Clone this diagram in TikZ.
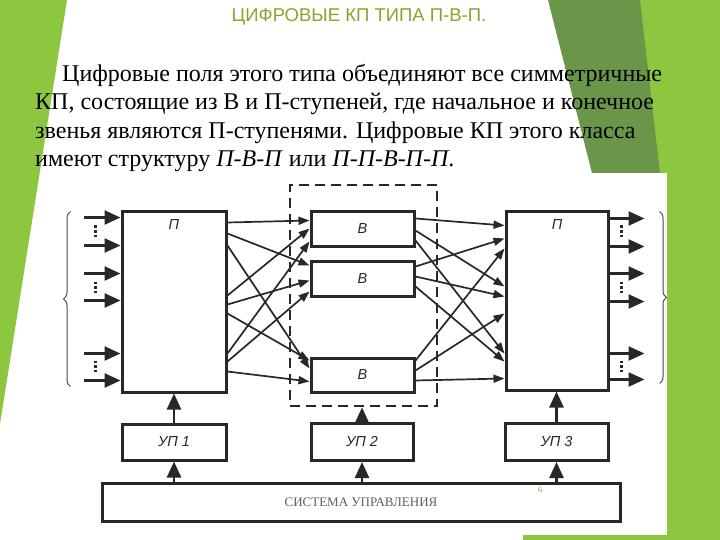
\documentclass[tikz,border=0pt]{standalone}
\usepackage{fontspec}
\setmainfont{Liberation Serif}
\setsansfont{Liberation Sans}
\newfontfamily\titlefont{Liberation Sans}
\usetikzlibrary{arrows.meta,calc,decorations.pathreplacing}
\definecolor{lime}{RGB}{141,198,63}
\definecolor{moss}{RGB}{106,150,74}
\definecolor{titlegreen}{RGB}{145,160,45}
\definecolor{ink}{RGB}{40,40,40}
\begin{document}
\begin{tikzpicture}[x=1pt,y=-1pt,
    blk/.style={draw=ink, line width=3pt, fill=white, inner sep=0pt},
    lbl/.style={font=\sffamily\itshape\fontsize{14.5}{14.5}\selectfont, text=ink},
    wire/.style={draw=ink, line width=1.7pt, -{Triangle[length=11pt,width=8pt]}},
    port/.style={draw=ink, line width=2.5pt, -{Triangle[length=16pt,width=14pt]}},
    vdash/.style={draw=ink, line width=3pt, dash pattern=on 2.5pt off 2pt},
    brace/.style={decorate, decoration={brace, amplitude=7pt}, draw=ink!85, line width=1pt}]
  \useasboundingbox (0,0) rectangle (720,540);
  % slide background
  \fill[white] (0,0) rectangle (720,540);
  \fill[lime] (0,0) -- (67,0) -- (0,424) -- cycle;
  \fill[lime] (620,0) -- (720,0) -- (720,540) -- (640,540) -- cycle;
  \fill[lime] (523,535) rectangle (720,540);
  \fill[moss] (548,0) -- (640,0) -- (660,173) -- (592,173) -- cycle;
  \fill[white] (65,173) rectangle (667,535);
  \fill[white] (65,535) rectangle (523,540);
  % title and text
  \node[font=\titlefont\fontsize{18.5}{18.5}\selectfont, text=titlegreen] (title) at (359,17) {ЦИФРОВЫЕ КП ТИПА П-В-П.};
  \node[anchor=north west, align=left, inner sep=0pt, font=\rmfamily\fontsize{24}{28.5}\selectfont] (intro) at (35,64)
    {\hspace*{27pt}Цифровые поля этого типа объединяют все симметричные\\
     КП, состоящие из В и П-ступеней, где начальное и конечное\\
     звенья являются П-ступенями. Цифровые КП этого класса\\
     имеют структуру \textit{П-В-П} или \textit{П-П-В-П-П}.};
  % switching stages
  \node[draw=ink, line width=2.8pt, dash pattern=on 10pt off 6pt, minimum width=147pt, minimum height=221pt] (frame) at (363.5,295.5) {};
  \node[blk, minimum width=104pt, minimum height=180pt, label={[lbl,anchor=north,yshift=-5pt]north:П}] (P1) at (174,302) {};
  \node[blk, minimum width=102pt, minimum height=178pt, label={[lbl,anchor=north,yshift=-5pt]north:П}] (P2) at (557,301) {};
  \node[blk, lbl, minimum width=103pt, minimum height=34pt] (B1) at (362.5,229) {В};
  \node[blk, lbl, minimum width=103pt, minimum height=35pt] (B2) at (362.5,278.5) {В};
  \node[blk, lbl, minimum width=103pt, minimum height=34pt] (B3) at (362.5,375) {В};
  % control units
  \node[blk, lbl, minimum width=104pt, minimum height=36pt] (UP1) at (174,442) {УП 1};
  \node[blk, lbl, minimum width=102pt, minimum height=37pt] (UP2) at (362,442) {УП 2};
  \node[blk, lbl, minimum width=103pt, minimum height=37pt] (UP3) at (556.5,442) {УП 3};
  \node[blk, minimum width=518pt, minimum height=38pt, font=\rmfamily\fontsize{13}{13}\selectfont, text=ink!75] (sys) at (361,502) {СИСТЕМА УПРАВЛЕНИЯ};
  \node[font=\fontsize{8}{8}\selectfont, text=titlegreen] (page) at (540,490) {6};
  % P1 -> B links
  \foreach \s/\b/\e in {12/B1/10, 23/B2/6, 35/B3/12, 85/B1/18, 94/B2/21, 103/B3/4, 143/B1/31, 151/B2/32, 161/B3/25}
    \draw[wire] ($(P1.north east)+(0,\s)$) -- ($(\b.north west)+(0,\e)$);
  % B -> P2 links
  \foreach \b/\s/\e in {B1/8/15, B1/20/76, B1/30/143, B2/7/28, B2/17/86, B2/27/151, B3/4/38, B3/14/103, B3/24/168}
    \draw[wire] ($(\b.north east)+(0,\s)$) -- ($(P2.north west)+(0,\e)$);
  % inputs and outputs
  \foreach \s in {7,35,63,90,143,170}
    \draw[port] ($(P1.north west)+(-37,\s)$) -- ($(P1.north west)+(0,\s)$);
  \foreach \s in {8,36,63,91,143,169}
    \draw[port] ($(P2.north east)+(0,\s)$) -- ($(P2.north east)+(35,\s)$);
  \foreach \s in {21,77,156} {
    \draw[vdash] ($(P1.north west)+(-25,\s-6)$) -- ($(P1.north west)+(-25,\s+6)$);
    \draw[vdash] ($(P2.north east)+(12,\s-6)$) -- ($(P2.north east)+(12,\s+6)$);
  }
  \draw[brace] ($(P1.north west)+(-50,176)$) -- ($(P1.north west)+(-50,1)$);
  \draw[brace] ($(P2.north east)+(50,1)$) -- ($(P2.north east)+(50,173)$);
  % control arrows
  \draw[port] (UP1.north) -- (UP1.north |- P1.south);
  \draw[port] (UP2.north) -- (UP2.north |- frame.south);
  \draw[port] (UP3.north) -- (UP3.north |- P2.south);
  \draw[port] (sys.north -| UP1) -- (UP1.south);
  \draw[port] (sys.north -| UP2) -- (UP2.south);
  \draw[port] (sys.north -| UP3) -- (UP3.south);
\end{tikzpicture}
\end{document}
